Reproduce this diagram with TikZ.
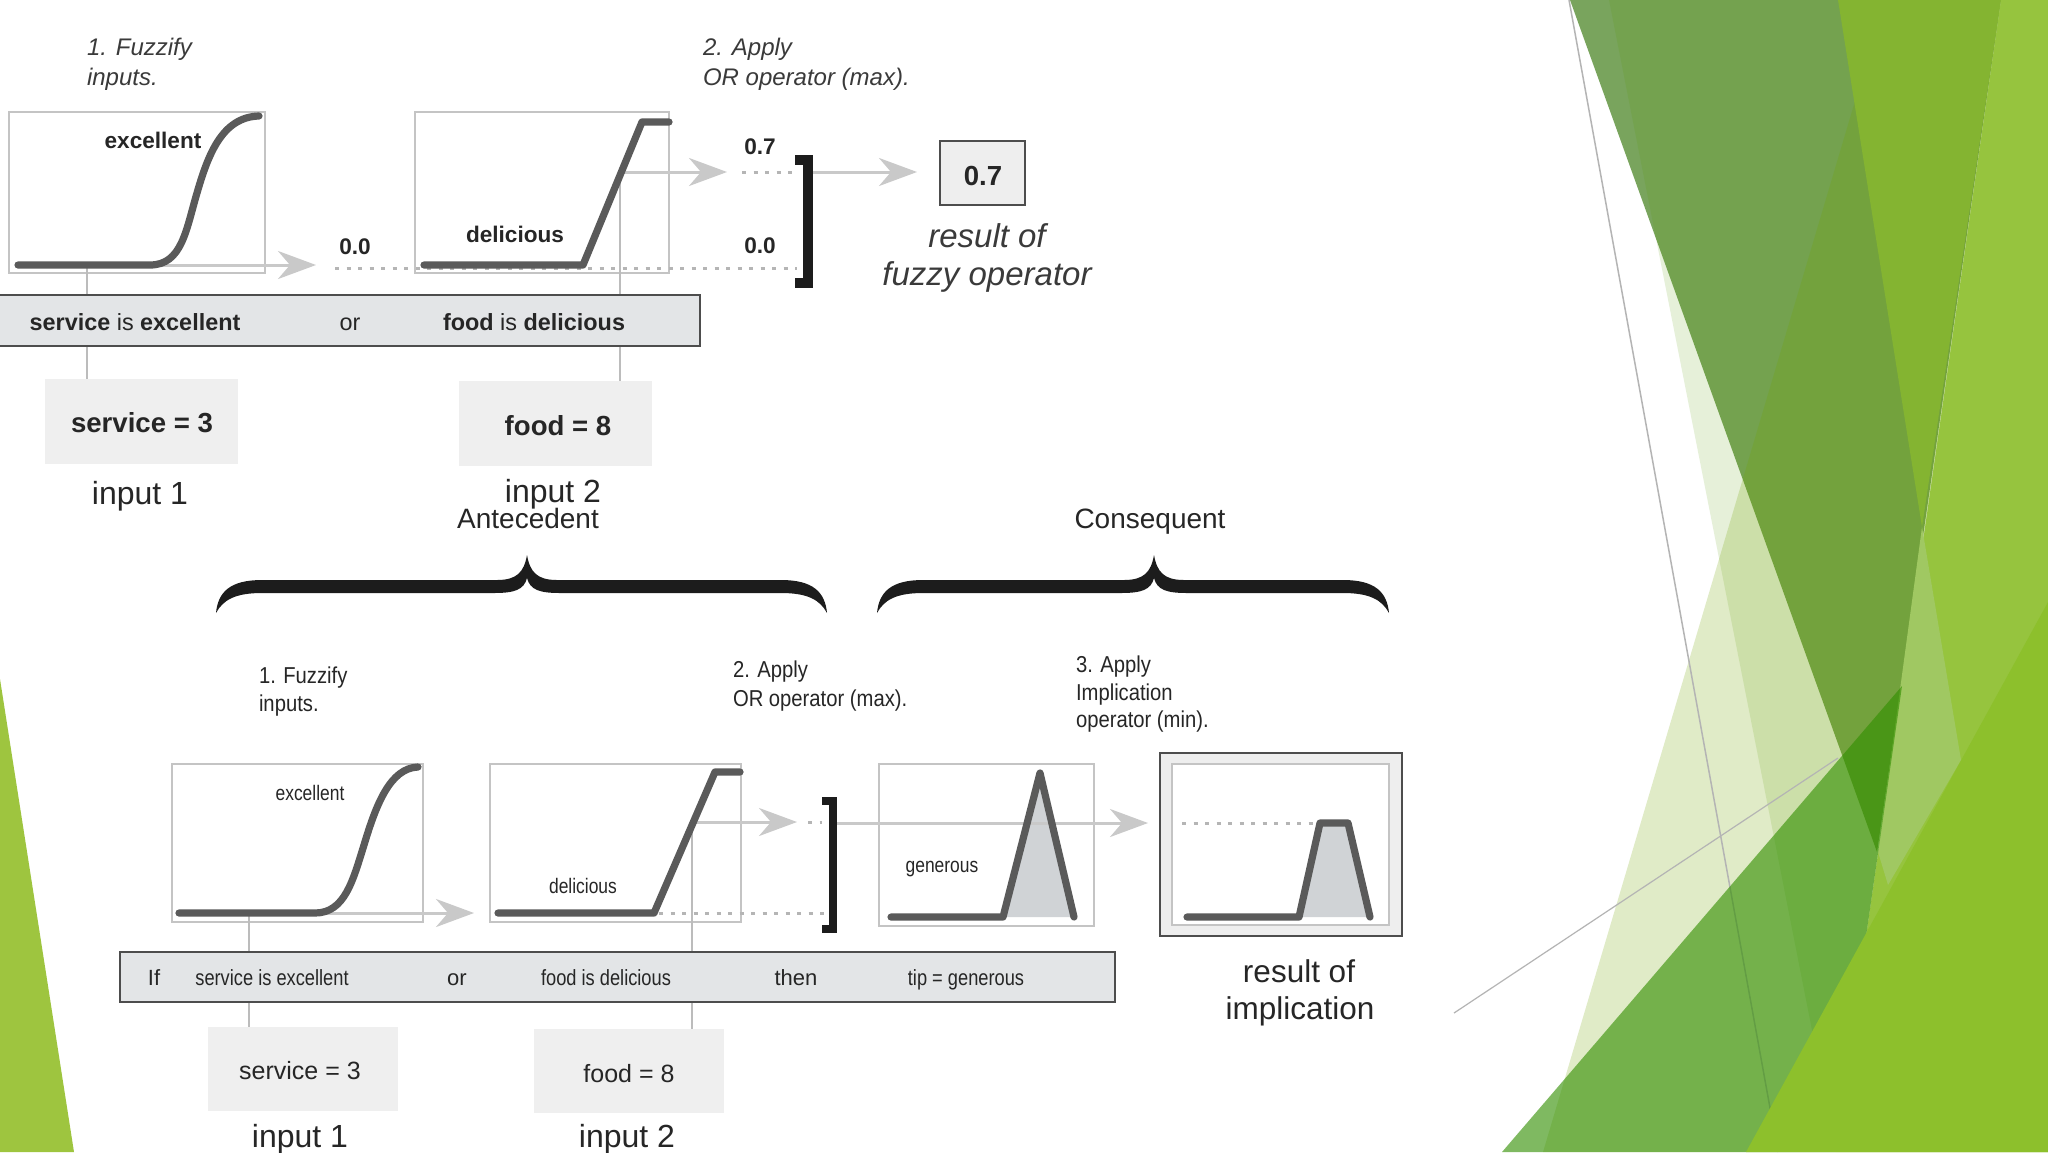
\documentclass[tikz,border=0pt]{standalone}
\usepackage{fontspec}
\setmainfont{Liberation Sans}
\newfontfamily\narrowfont[FakeStretch=0.83]{Liberation Sans}
\newfontfamily\semifont[FakeStretch=0.88]{Liberation Sans}
\usetikzlibrary{arrows.meta}
\definecolor{txt}{HTML}{262626}
\definecolor{txtit}{HTML}{3A3A3A}
\definecolor{boxgray}{HTML}{C4C4C4}
\definecolor{curvegray}{HTML}{5A5A5A}
\definecolor{arrowgray}{HTML}{C9C9C9}
\definecolor{dotgray}{HTML}{B5B5B5}
\definecolor{vgray}{HTML}{BCBCBC}
\definecolor{bardark}{HTML}{4D4D4D}
\definecolor{barfill}{HTML}{E3E5E7}
\definecolor{inboxfill}{HTML}{EFEFEF}
\definecolor{resfill}{HTML}{EEEEEE}
\definecolor{genfill}{HTML}{D0D3D6}
\definecolor{brkcol}{HTML}{1C1C1C}
\definecolor{gDark}{HTML}{79A45D}
\definecolor{gMid}{HTML}{84B431}
\definecolor{gLight}{HTML}{96C43E}
\definecolor{gKite}{HTML}{A0C862}
\definecolor{gBright}{HTML}{8DC02C}
\definecolor{gLeft}{HTML}{9EC53F}
\definecolor{gTQ}{HTML}{599B00}
\definecolor{gTP}{HTML}{72A400}
\definecolor{gBand}{HTML}{328F00}
\definecolor{thinline}{HTML}{B4B4B4}
\newcommand\fsz[2]{\fontsize{#1}{#2}\selectfont}
\begin{document}
\begin{tikzpicture}[x=0.5pt,y=-0.5pt,
  every node/.style={inner sep=0pt, outer sep=0pt},
  lbl/.style={anchor=base, text=txt},
  lblw/.style={anchor=base west, text=txt},
  mfbox/.style={draw=boxgray, line width=0.75pt, fill=white, rectangle},
  mfcurve/.style={draw=curvegray, line width=3.6pt, line cap=round, line join=round},
  garrow/.style={draw=arrowgray, line width=1.5pt, -{Stealth[length=19pt, width=14pt, inset=6pt]}},
  dotl/.style={draw=dotgray, line width=1.5pt, dash pattern=on 2pt off 3.75pt},
  vline/.style={draw=vgray, line width=1pt},
  barbox/.style={draw=bardark, fill=barfill, line width=1.25pt, rectangle},
  inbox/.style={fill=inboxfill, rectangle},
  brkline/.style={draw=brkcol, line width=5pt},
  resbox/.style={draw=bardark, fill=resfill, line width=1pt, rectangle}
]
\useasboundingbox (0,0) rectangle (2048,1152);
\clip (0,0) rectangle (2048,1152);
\fill[white] (0,0) rectangle (2048,1152);

% ---------------- background shapes ----------------
\fill[gLeft] (0,679) -- (74,1152) -- (0,1152) -- cycle;
\fill[gDark] (1570,0) -- (2001,0) -- (1877,852) -- cycle;
\fill[gTQ, opacity=0.15] (1609,0) -- (2048,0) -- (2048,1152) -- (1836,1152) -- cycle;
\fill[gTP, opacity=0.22] (1885,0) -- (2048,0) -- (2048,1152) -- (1543,1152) -- cycle;
\fill[gMid] (1838,0) -- (2001,0) -- (1922,527) -- cycle;
\fill[gLight] (2001,0) -- (2048,0) -- (2048,1152) -- (1835,1152) -- cycle;
\fill[gKite] (1922,527) -- (1961,760) -- (1888,885) -- (1878,852) -- cycle;
\draw[thinline, line width=0.75pt] (1569,0) -- (1778,1152);
\draw[thinline, line width=0.6pt] (1454,1013) -- (1838,758);
\fill[gBand, opacity=0.62] (1502,1152) -- (1902,686) -- (1835,1152) -- cycle;
\fill[gBright] (1746,1152) -- (2048,602) -- (2048,1152) -- cycle;

% ---------------- TOP DIAGRAM ----------------
\node[lblw, text=txtit] (ts1a) at (87,55) {\fsz{12}{15}\itshape 1. Fuzzify};
\node[lblw, text=txtit] (ts1b) at (87,85) {\fsz{12}{15}\itshape inputs.};
\node[lblw, text=txtit] (ts2a) at (703,55) {\fsz{12}{15}\itshape 2. Apply};
\node[lblw, text=txtit] (ts2b) at (703,85) {\fsz{12}{15}\itshape OR operator (max).};

\node[mfbox, minimum width=128pt, minimum height=80.5pt] (tb1) at (137,192.5) {};
\node[mfbox, minimum width=127pt, minimum height=80.5pt] (tb2) at (542,192.5) {};

\coordinate (tc1) at (87,265);
\coordinate (tt1) at (316,265);
\coordinate (tc2) at (620,172);
\coordinate (tt2) at (727,172);
\coordinate (tbr) at (812,172);
\coordinate (tt3) at (917,172);
\coordinate (tda) at (335,268);
\coordinate (tdb) at (797,268);
\coordinate (tdc) at (742,172);
\coordinate (tdd) at (797,172);

\node[inbox, minimum width=96.5pt, minimum height=42.5pt] (tin1) at (141.5,421.5) {};
\node[inbox, minimum width=96.5pt, minimum height=42.5pt] (tin2) at (555.5,423.5) {};

\draw[vline] (tc1) -- (tc1 |- tin1.north);
\draw[vline] (tc2) -- (tc2 |- tin2.north);

\draw[dotl] (tda) -- (tdb);
\draw[dotl] (tdc) -- (tdd);
\draw[garrow] (tc1) -- (tt1);
\draw[garrow] (tc2) -- (tt2);
\draw[garrow] (tbr) -- (tt3);

\draw[mfcurve] (18,265) -- (150,265) .. controls (182,265) and (186,230) .. (197,193) .. controls (208,155) and (222,117) .. (259,116);
\draw[mfcurve] (424,265) -- (583,265) -- (642,122) -- (669,122);

\node[lbl] (tlex) at (153,148) {\fsz{11.3}{13}\bfseries excellent};
\node[lbl] (tldel) at (515,242) {\fsz{11.3}{13}\bfseries delicious};
\node[lbl] (tv0a) at (355,254) {\fsz{11.3}{13}\bfseries 0.0};
\node[lbl] (tv7) at (760,154) {\fsz{11.3}{13}\bfseries 0.7};
\node[lbl] (tv0b) at (760,253) {\fsz{11.3}{13}\bfseries 0.0};

\draw[brkline] (795,160) -- (808,160) -- (808,283) -- (795,283);

\node[resbox, minimum width=42.5pt, minimum height=32pt] (tres) at (982.5,173) {};
\node[lbl] (tresv) at (983,185) {\fsz{13.8}{16}\bfseries 0.7};
\node[lbl, text=txtit] (trof1) at (987,247) {\fsz{16.5}{20}\itshape result of};
\node[lbl, text=txtit] (trof2) at (987,285) {\fsz{16.5}{20}\itshape fuzzy operator};

\node[barbox, minimum width=355pt, minimum height=25.5pt] (tbar) at (345,320.5) {};
\node[lbl] (tbar1) at (135,330) {\fsz{11.7}{14}{\bfseries service} is {\bfseries excellent}};
\node[lbl] (tbar2) at (350,330) {\fsz{11.7}{14}or};
\node[lbl] (tbar3) at (534,330) {\fsz{11.7}{14}{\bfseries food} is {\bfseries delicious}};

\node[lbl] (tin1t) at (142,432) {\fsz{13.8}{16}\bfseries service = 3};
\node[lbl] (tin2t) at (558,435) {\fsz{13.8}{16}\bfseries food = 8};
\node[lbl] (tinp1) at (140,504) {\fsz{16}{19}input 1};
\node[lbl] (tinp2) at (553,502) {\fsz{16}{19}input 2};

% ---------------- BRACES ----------------
\node[lbl] (ante) at (528,528) {\fsz{14}{17}Antecedent};
\node[lbl] (cons) at (1150,528) {\fsz{14}{17}Consequent};
\fill[brkcol] (216,613) .. controls (218,592) and (230,580) .. (262,580) -- (497,580) .. controls (517,580) and (524,572) .. (527,555) .. controls (530,572) and (537,580) .. (557,580) -- (781,580) .. controls (813,580) and (825,592) .. (827,613) .. controls (820,600) and (808,593) .. (781,593) -- (560,593) .. controls (540,593) and (530,590) .. (527,578) .. controls (524,590) and (514,593) .. (494,593) -- (262,593) .. controls (235,593) and (223,600) .. (216,613) -- cycle;
\fill[brkcol] (877,613) .. controls (879,592) and (891,580) .. (923,580) -- (1124,580) .. controls (1144,580) and (1151,572) .. (1154,555) .. controls (1157,572) and (1164,580) .. (1184,580) -- (1343,580) .. controls (1375,580) and (1387,592) .. (1389,613) .. controls (1382,600) and (1370,593) .. (1343,593) -- (1187,593) .. controls (1167,593) and (1157,590) .. (1154,578) .. controls (1151,590) and (1141,593) .. (1121,593) -- (923,593) .. controls (896,593) and (884,600) .. (877,613) -- cycle;

% ---------------- BOTTOM DIAGRAM ----------------
\node[lblw] (bs1a) at (259,683) {\fsz{11.5}{14}\semifont 1. Fuzzify};
\node[lblw] (bs1b) at (259,711) {\fsz{11.5}{14}\semifont inputs.};
\node[lblw] (bs2a) at (733,677) {\fsz{11.5}{14}\semifont 2. Apply};
\node[lblw] (bs2b) at (733,706) {\fsz{11.5}{14}\semifont OR operator (max).};
\node[lblw] (bs3a) at (1076,672) {\fsz{11.5}{14}\semifont 3. Apply};
\node[lblw] (bs3b) at (1076,700) {\fsz{11.5}{14}\semifont Implication};
\node[lblw] (bs3c) at (1076,727) {\fsz{11.5}{14}\semifont operator (min).};

\node[mfbox, minimum width=125.5pt, minimum height=79pt] (bbA) at (297.5,843) {};
\node[mfbox, minimum width=125.5pt, minimum height=79pt] (bbB) at (615.5,843) {};
\node[mfbox, minimum width=107.5pt, minimum height=81pt] (bbC) at (986.5,845) {};
\node[resbox, minimum width=121pt, minimum height=91.5pt] (bres) at (1281,844.5) {};
\node[mfbox, line width=0.6pt, minimum width=108.5pt, minimum height=80.5pt] (bresin) at (1280.5,844.5) {};

\coordinate (bc1) at (249,913);
\coordinate (bt1) at (474,913);
\coordinate (bc2) at (692,822);
\coordinate (bt2) at (797,822);
\coordinate (bbr) at (837,823);
\coordinate (bt3) at (1148,823);
\coordinate (bda) at (659,913);
\coordinate (bdb) at (826,913);
\coordinate (bdc) at (808,822);
\coordinate (bdd) at (822,822);
\coordinate (bde) at (1182,823);
\coordinate (bdf) at (1318,823);

\node[inbox, minimum width=95pt, minimum height=42pt] (bin1) at (303,1069) {};
\node[inbox, minimum width=95pt, minimum height=42pt] (bin2) at (629,1071) {};

\draw[vline] (bc1) -- (bc1 |- bin1.north);
\draw[vline] (bc2) -- (bc2 |- bin2.north);

\fill[genfill] (1003,917) -- (1040,773) -- (1074,917) -- cycle;
\fill[genfill] (1299,917) -- (1320,823) -- (1348,823) -- (1370,917) -- cycle;

\draw[dotl] (bda) -- (bdb);
\draw[dotl] (bdc) -- (bdd);
\draw[dotl] (bde) -- (bdf);
\draw[garrow] (bc1) -- (bt1);
\draw[garrow] (bc2) -- (bt2);
\draw[garrow] (bbr) -- (bt3);

\draw[mfcurve] (179,913) -- (315,913) .. controls (345,913) and (353,880) .. (364,845) .. controls (376,805) and (390,768) .. (418,767);
\draw[mfcurve] (498,913) -- (654,913) -- (715,772) -- (740,772);
\draw[mfcurve] (891,917) -- (1003,917) -- (1040,773) -- (1074,917);
\draw[mfcurve] (1187,917) -- (1299,917) -- (1320,823) -- (1348,823) -- (1370,917);

\draw[brkline, line width=4pt] (822,801) -- (833,801) -- (833,929) -- (822,929);

\node[lbl] (blex) at (310,800) {\fsz{10.5}{12}\narrowfont excellent};
\node[lbl] (bldel) at (583,893) {\fsz{10.5}{12}\narrowfont delicious};
\node[lbl] (blgen) at (942,872) {\fsz{10.5}{12}\narrowfont generous};

\node[barbox, minimum width=497.5pt, minimum height=25pt] (bbar) at (617.5,977) {};
\node[lbl] (bbar0) at (154,985) {\fsz{11}{13}If};
\node[lbl] (bbar1) at (272,985) {\fsz{11}{13}\narrowfont service is excellent};
\node[lbl] (bbar2) at (457,985) {\fsz{11}{13}or};
\node[lbl] (bbar3) at (606,985) {\fsz{11}{13}\narrowfont food is delicious};
\node[lbl] (bbar4) at (796,985) {\fsz{11}{13}then};
\node[lbl] (bbar5) at (966,985) {\fsz{11}{13}\narrowfont tip = generous};

\node[lbl] (bin1t) at (300,1079) {\fsz{12.5}{15}service = 3};
\node[lbl] (bin2t) at (629,1082) {\fsz{12.5}{15}food = 8};
\node[lbl] (binp1) at (300,1147) {\fsz{16}{19}input 1};
\node[lbl] (binp2) at (627,1147) {\fsz{16}{19}input 2};

\node[lbl] (brof1) at (1299,982) {\fsz{15.75}{19}result of};
\node[lbl] (brof2) at (1300,1019) {\fsz{15.75}{19}implication};
\end{tikzpicture}
\end{document}
